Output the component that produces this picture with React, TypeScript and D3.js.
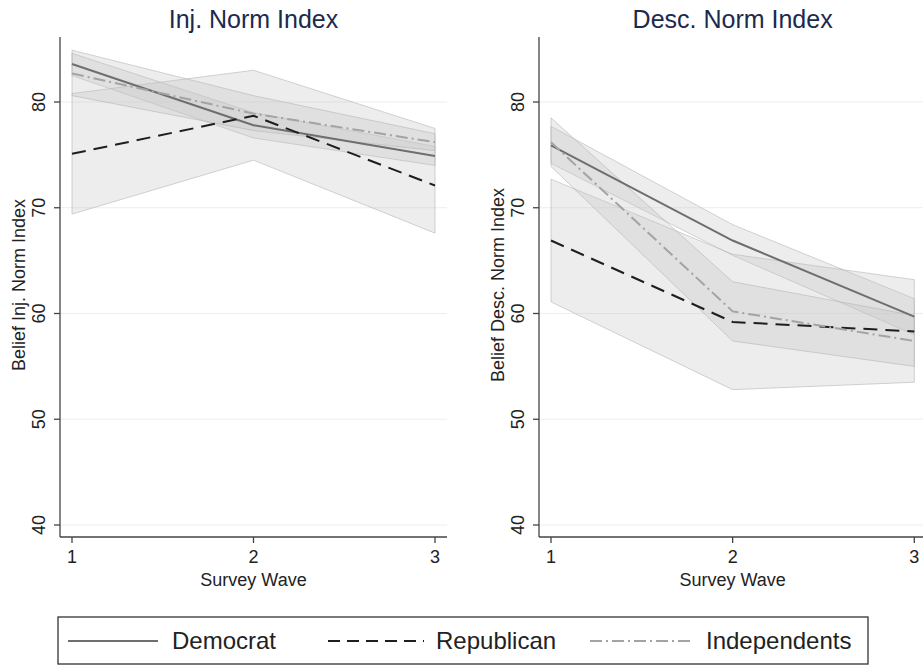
import React from "react";
import * as d3 from "d3";

const waves = [1, 2, 3];
const yTicks = [40, 50, 60, 70, 80];
const seriesNames = ["Democrat", "Republican", "Independents"];

// Injunctive norm index panel
const injDem = [83.6, 77.8, 74.9];
const injDemLo = [82.5, 76.6, 74.0];
const injDemHi = [84.6, 79.0, 75.8];
const injRep = [75.1, 78.7, 72.1];
const injRepLo = [69.4, 74.5, 67.6];
const injRepHi = [80.8, 83.0, 77.5];
const injInd = [82.7, 78.9, 76.2];
const injIndLo = [80.6, 77.3, 75.4];
const injIndHi = [84.9, 80.6, 77.0];

// Descriptive norm index panel
const descDem = [75.9, 66.9, 59.7];
const descDemLo = [74.2, 65.5, 58.0];
const descDemHi = [77.7, 68.4, 61.4];
const descRep = [66.9, 59.2, 58.3];
const descRepLo = [61.1, 52.8, 53.5];
const descRepHi = [72.7, 65.6, 63.2];
const descInd = [76.2, 60.2, 57.4];
const descIndLo = [73.9, 57.4, 55.0];
const descIndHi = [78.5, 63.0, 59.8];

const FONT = "Arial, 'Liberation Sans', Helvetica, sans-serif";

type Series = { mean: number[]; lo: number[]; hi: number[] };

const styles = [
  { stroke: "#6e6e6e", dash: "none", width: 2 },
  { stroke: "#1e1e1e", dash: "14,8", width: 2 },
  { stroke: "#a3a3a3", dash: "12,4,2,4", width: 2 },
];

function Panel(props: {
  title: string;
  ylabel: string;
  axisX: number;
  xRange: [number, number];
  xEnd: number;
  ylabelX: number;
  series: Series[];
}) {
  const { title, ylabel, axisX, xRange, xEnd, ylabelX, series } = props;
  const x = d3.scaleLinear().domain([1, 3]).range(xRange);
  const y = d3.scaleLinear().domain([40, 80]).range([525, 102]);
  const axisY = 537;
  const line = d3
    .line<number>()
    .x((_, i) => x(waves[i]))
    .y((d) => y(d));
  const bandPath = (s: Series) =>
    d3
      .area<number>()
      .x((_, i) => x(waves[i]))
      .y0((_, i) => y(s.lo[i]))
      .y1((_, i) => y(s.hi[i]))(s.mean) || "";
  const cx = (xRange[0] + xRange[1]) / 2;
  return (
    <g>
      {yTicks.map((t) => (
        <line key={t} x1={axisX} x2={xEnd} y1={y(t)} y2={y(t)} stroke="#e6eff1" strokeWidth={1.2} />
      ))}
      {series.map((s, i) => (
        <path key={"b" + i} d={bandPath(s)} fill="#c4c4c4" fillOpacity={0.3} stroke="#b5b5b5" strokeOpacity={0.6} strokeWidth={1} />
      ))}
      {series.map((s, i) => (
        <path
          key={"l" + i}
          d={line(s.mean) || ""}
          fill="none"
          stroke={styles[i].stroke}
          strokeWidth={styles[i].width}
          strokeDasharray={styles[i].dash}
        />
      ))}
      <line x1={axisX} x2={axisX} y1={37} y2={axisY} stroke="#444" strokeWidth={1.3} />
      <line x1={axisX} x2={xEnd} y1={axisY} y2={axisY} stroke="#444" strokeWidth={1.3} />
      {yTicks.map((t) => (
        <g key={"yt" + t}>
          <line x1={axisX - 6} x2={axisX} y1={y(t)} y2={y(t)} stroke="#444" strokeWidth={1.3} />
          <text
            transform={`translate(${axisX - 15},${y(t)}) rotate(-90)`}
            textAnchor="middle"
            fontFamily={FONT}
            fontSize={18}
            fill="#222"
          >
            {t}
          </text>
        </g>
      ))}
      {waves.map((w) => (
        <g key={"xt" + w}>
          <line x1={x(w)} x2={x(w)} y1={axisY} y2={axisY + 6} stroke="#444" strokeWidth={1.3} />
          <text x={x(w)} y={563} textAnchor="middle" fontFamily={FONT} fontSize={18} fill="#222">
            {w}
          </text>
        </g>
      ))}
      <text x={cx} y={586} textAnchor="middle" fontFamily={FONT} fontSize={18} fill="#222">
        Survey Wave
      </text>
      <text
        transform={`translate(${ylabelX},285) rotate(-90)`}
        textAnchor="middle"
        fontFamily={FONT}
        fontSize={18}
        fill="#222"
      >
        {ylabel}
      </text>
      <text x={cx} y={28} textAnchor="middle" fontFamily={FONT} fontSize={25} fill="#1c2a4e">
        {title}
      </text>
    </g>
  );
}

export default function App() {
  const injSeries: Series[] = [
    { mean: injDem, lo: injDemLo, hi: injDemHi },
    { mean: injRep, lo: injRepLo, hi: injRepHi },
    { mean: injInd, lo: injIndLo, hi: injIndHi },
  ];
  const descSeries: Series[] = [
    { mean: descDem, lo: descDemLo, hi: descDemHi },
    { mean: descRep, lo: descRepLo, hi: descRepHi },
    { mean: descInd, lo: descIndLo, hi: descIndHi },
  ];
  const legendItems = [
    { x1: 68, x2: 158, tx: 172 },
    { x1: 328, x2: 424, tx: 436 },
    { x1: 590, x2: 690, tx: 706 },
  ];
  return (
    <svg width={923} height={667} style={{ position: "absolute", left: 0, top: 0, background: "#fff" }}>
      <rect width={923} height={667} fill="#fff" />
      <Panel
        title="Inj. Norm Index"
        ylabel="Belief Inj. Norm Index"
        axisX={60}
        xRange={[72, 435]}
        xEnd={447}
        ylabelX={25}
        series={injSeries}
      />
      <Panel
        title="Desc. Norm Index"
        ylabel="Belief Desc. Norm Index"
        axisX={539}
        xRange={[551, 914.3]}
        xEnd={923}
        ylabelX={504}
        series={descSeries}
      />
      <rect x={58} y={617} width={810} height={47} fill="#fff" stroke="#333" strokeWidth={1.3} />
      {legendItems.map((it, i) => (
        <g key={i}>
          <line
            x1={it.x1}
            x2={it.x2}
            y1={641}
            y2={641}
            stroke={styles[i].stroke}
            strokeWidth={2}
            strokeDasharray={i === 1 ? "12,7" : styles[i].dash}
          />
          <text x={it.tx} y={649} fontFamily={FONT} fontSize={24} fill="#222">
            {seriesNames[i]}
          </text>
        </g>
      ))}
    </svg>
  );
}
